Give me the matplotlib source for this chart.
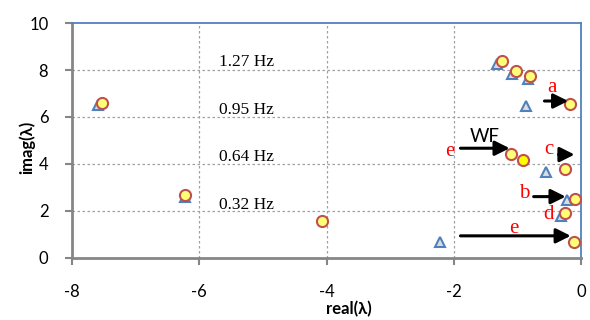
import matplotlib
matplotlib.use("Agg")
import matplotlib.pyplot as plt

# eigenvalue data
circ_x = [-7.53, -6.23, -4.07, -1.24, -1.02, -0.80, -0.18, -1.10, -0.26, -0.09, -0.26, -0.12]
circ_y = [6.58, 2.68, 1.57, 8.38, 7.96, 7.74, 6.54, 4.41, 3.79, 2.51, 1.90, 0.69]
wf_x = [-0.92]
wf_y = [4.17]
tri_x = [-7.59, -6.23, -1.32, -1.09, -0.84, -0.86, -0.56, -0.22, -0.31, -2.21]
tri_y = [6.50, 2.60, 8.24, 7.82, 7.60, 6.47, 3.67, 2.45, 1.80, 0.69]

freq_labels = ["1.27 Hz", "0.95 Hz", "0.64 Hz", "0.32 Hz"]
freq_y = [8.33, 6.3, 4.3, 2.26]

# arrows: (label, start x, end x, y, label x, label y)
arrows = [
    ("a", -0.62, -0.16, 6.68, -0.46, 7.26),
    ("c", -0.40, -0.06, 4.40, -0.50, 4.62),
    ("b", -0.79, -0.20, 2.61, -0.89, 2.75),
    ("e", -1.94, -1.08, 4.67, -2.07, 4.55),
    ("e", -1.94, -0.12, 0.94, -1.06, 1.26),
]

fig = plt.figure(figsize=(5.9, 3.2), dpi=100)
ax = fig.add_axes([0.122, 0.194, 0.863, 0.734])

grey = "#868686"
blue = "#4F81BD"

ax.plot(tri_x, tri_y, "^", ms=6.5, mfc="#DCDCDC", mec=blue, mew=1.5, zorder=3)
ax.plot(circ_x, circ_y, "o", ms=8, mfc="#FFFF77", mec="#C0504D", mew=1.5, zorder=4)
ax.plot(wf_x, wf_y, "o", ms=8, mfc="#FFFF00", mec="#C0504D", mew=1.5, zorder=4)

for lab, x0, x1, y, lx, ly in arrows:
    ax.annotate("", xy=(x1, y), xytext=(x0, y),
                arrowprops=dict(arrowstyle="-|>", mutation_scale=22, lw=2.2, color="black"),
                zorder=5)
    ax.text(lx, ly, lab, color="red", fontsize=15, family="Liberation Serif",
            ha="center", va="center", zorder=6)

ax.text(-0.51, 1.83, "d", color="red", fontsize=15, family="Liberation Serif",
        ha="center", va="center", zorder=6)
ax.text(-1.51, 5.16, "WF", color="black", fontsize=13.5, family=["Lato", "DejaVu Sans"],
        ha="center", va="center", zorder=6)

for lab, y in zip(freq_labels, freq_y):
    ax.text(-5.26, y, lab, fontsize=12.5, family="Liberation Serif",
            ha="center", va="center")

ax.set_xlim(-8, 0)
ax.set_ylim(0, 10)
ax.set_xticks([-8, -6, -4, -2, 0])
ax.set_yticks([0, 2, 4, 6, 8, 10])
ax.set_xticklabels(["-8", "-6", "-4", "-2", "0"])

for y in [2, 4, 6, 8]:
    ax.axhline(y, color="#A0A0A0", lw=0.9, ls=(0, (2, 2)), zorder=1)
for x in [-6, -4, -2]:
    ax.axvline(x, color="#A0A0A0", lw=0.9, ls=(0, (2, 2)), zorder=1)

for s in ["left", "bottom"]:
    ax.spines[s].set_color(grey)
    ax.spines[s].set_linewidth(2)
for s in ["top", "right"]:
    ax.spines[s].set_color(blue)
    ax.spines[s].set_linewidth(1.3)

ax.tick_params(axis="both", direction="out", length=5, width=1.5, color=grey,
               labelsize=12)
ax.tick_params(axis="x", pad=14)
ax.tick_params(axis="y", pad=12)
for t in ax.get_xticklabels() + ax.get_yticklabels():
    t.set_family(["Lato", "DejaVu Sans"])

fig.text(0.592, 0.035, "real(λ)", fontsize=12, fontweight="bold",
         family=["Lato", "DejaVu Sans"], ha="center", va="center")
fig.text(0.046, 0.54, "imag(λ)", fontsize=12, fontweight="bold", rotation=90,
         family=["Lato", "DejaVu Sans"], ha="center", va="center")

fig.savefig("out.png", dpi=100)
